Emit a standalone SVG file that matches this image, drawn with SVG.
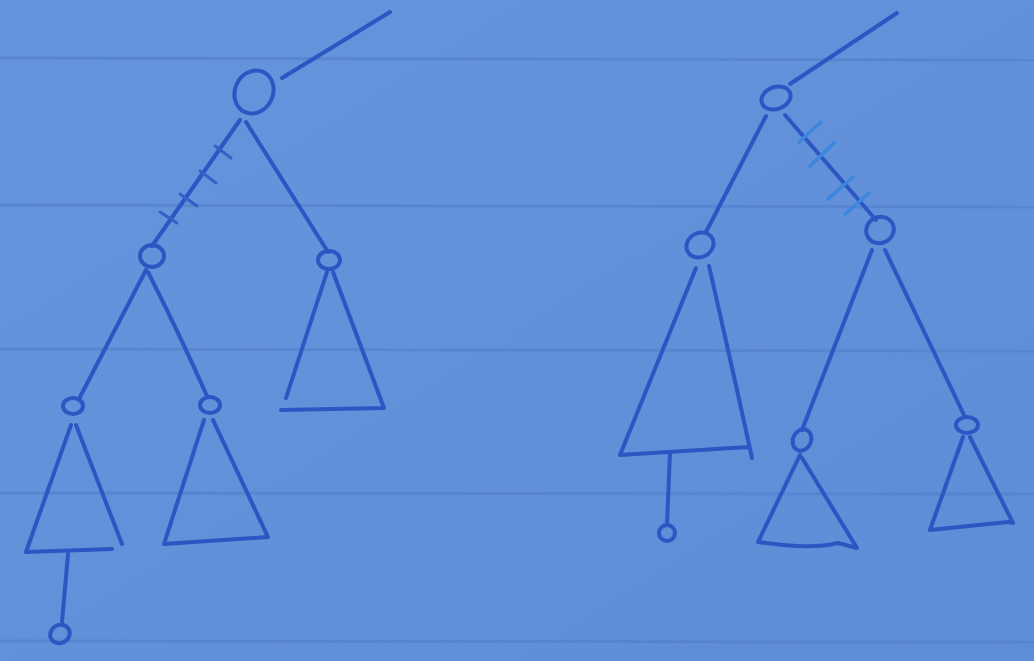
<svg xmlns="http://www.w3.org/2000/svg" width="1034" height="661" viewBox="0 0 1034 661">
<defs>
<linearGradient id="paper" x1="0" y1="0" x2="1" y2="1">
<stop offset="0" stop-color="#6694dc"/>
<stop offset="0.5" stop-color="#6291da"/>
<stop offset="1" stop-color="#5e8cd6"/>
</linearGradient>
<style>
.ink{fill:none;stroke:#2b56c4;stroke-width:4;stroke-linecap:round;stroke-linejoin:round}
.tickd{fill:none;stroke:#3460c8;stroke-width:3;stroke-linecap:round}
.tick{fill:none;stroke:#3b86de;stroke-width:3.5;stroke-linecap:round}
.rule{fill:none;stroke:#5580cc;stroke-width:3;opacity:0.7}
</style>
</defs>
<rect width="1034" height="661" fill="url(#paper)"/>
<g id="rules">
<path class="rule" d="M0 58 L1034 60"/>
<path class="rule" d="M0 205 L1034 207"/>
<path class="rule" d="M0 349 L1034 351"/>
<path class="rule" d="M0 493 L1034 494"/>
<path class="rule" d="M0 641 L1034 642"/>
</g>
<g id="connectors">
<path class="ink" d="M390 12 L282 78"/>
<path class="ink" d="M240 120 L152 246"/>
<path class="ink" d="M246 122 L328 252"/>
<path class="ink" d="M146 270 L80 397"/>
<path class="ink" d="M148 272 Q180 335 207 396"/>
<path class="ink" d="M68 554 L62 622"/>
<path class="tickd" d="M160 212 L177 223"/>
<path class="tickd" d="M180 194 L197 206"/>
<path class="tickd" d="M200 171 L216 183"/>
<path class="tickd" d="M215 146 L231 158"/>
<path class="ink" d="M897 13 L790 84"/>
<path class="ink" d="M766 116 L706 232"/>
<path class="ink" d="M785 115 L876 220"/>
<path class="ink" d="M872 250 L802 430"/>
<path class="ink" d="M885 250 L964 415"/>
<path class="ink" d="M670 452 L667 524"/>
<path class="tick" d="M799 142 L821 122"/>
<path class="tick" d="M810 166 L834 143"/>
<path class="tick" d="M828 199 L853 177"/>
<path class="tick" d="M845 214 L869 193"/>
</g>
<g id="root-left"><ellipse class="ink" cx="254" cy="92" rx="19" ry="22" transform="rotate(25 254 92)"/></g>
<g id="left-a"><ellipse class="ink" cx="152" cy="256" rx="12" ry="11"/></g>
<g id="left-b"><ellipse class="ink" cx="329" cy="260" rx="11" ry="9"/></g>
<g id="left-b-subtree"><path class="ink" d="M327 272 L286 398 M281 410 L384 408 L333 272"/></g>
<g id="left-c"><ellipse class="ink" cx="73" cy="406" rx="10" ry="8"/></g>
<g id="left-c-subtree"><path class="ink" d="M71 425 L26 552 L112 549 M76 425 L122 544"/></g>
<g id="left-d"><ellipse class="ink" cx="210" cy="405" rx="10" ry="8"/></g>
<g id="left-d-subtree"><path class="ink" d="M204 420 L164 544 L268 537 L213 420"/></g>
<g id="left-e"><ellipse class="ink" cx="60" cy="634" rx="10" ry="9" transform="rotate(-30 60 634)"/></g>
<g id="root-right"><ellipse class="ink" cx="776" cy="98" rx="15" ry="11" transform="rotate(-20 776 98)"/></g>
<g id="right-a"><ellipse class="ink" cx="700" cy="245" rx="14" ry="12" transform="rotate(-30 700 245)"/></g>
<g id="right-a-subtree"><path class="ink" d="M696 268 L620 455 L748 447 M709 266 Q735 380 752 458"/></g>
<g id="right-b"><ellipse class="ink" cx="880" cy="230" rx="14" ry="13" transform="rotate(-30 880 230)"/></g>
<g id="right-c"><ellipse class="ink" cx="802" cy="440" rx="9" ry="11" transform="rotate(25 802 440)"/></g>
<g id="right-c-subtree"><path class="ink" d="M800 455 L758 542 Q810 550 838 543 L857 548 L802 458"/></g>
<g id="right-d"><ellipse class="ink" cx="967" cy="425" rx="11" ry="8"/></g>
<g id="right-d-subtree"><path class="ink" d="M963 437 L930 530 L1008 522 L1013 523 L970 437"/></g>
<g id="right-e"><ellipse class="ink" cx="667" cy="533" rx="8" ry="8"/></g>
</svg>
